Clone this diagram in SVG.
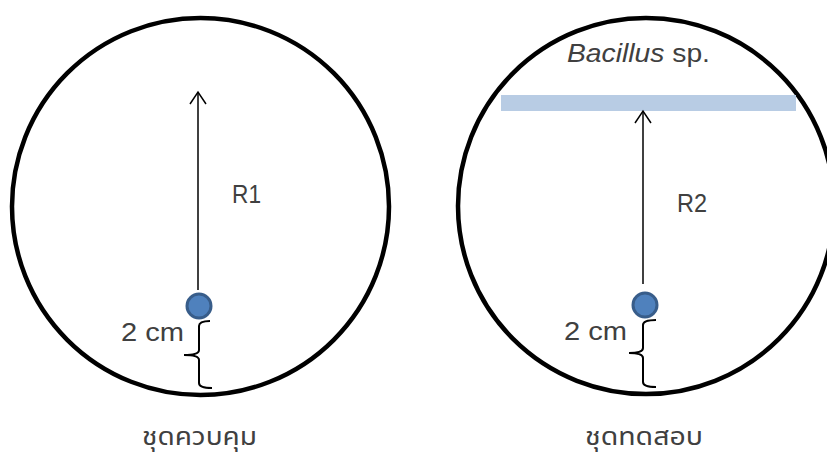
<svg xmlns="http://www.w3.org/2000/svg" width="827" height="456" viewBox="0 0 827 456">
<style>
.dish{fill:none;stroke:#000;stroke-width:4.5}
.ax{stroke:#000;stroke-width:1.5;fill:none}
.dot{fill:#4f81bd;stroke:#385d8a;stroke-width:3}
.br{fill:none;stroke:#000;stroke-width:2}
.t{font-family:"Liberation Sans","Noto Sans",sans-serif;fill:#404040;font-size:26px}
.th{font-family:"Noto Sans Thai","Noto Sans","DejaVu Sans",sans-serif;fill:#404040;font-size:25px}
</style>
<defs>
<marker id="ah" viewBox="0 0 20 20" refX="15" refY="10" markerWidth="20" markerHeight="20" markerUnits="userSpaceOnUse" orient="auto">
<path d="M3,2 L15,10 L3,18" fill="none" stroke="#000" stroke-width="1.5"/>
</marker>
</defs>
<g id="control">
<circle class="dish" cx="200.5" cy="206.5" r="188.5"/>
<circle class="dot" cx="199" cy="306" r="12"/>
<text class="t" x="121" y="341" textLength="63" lengthAdjust="spacingAndGlyphs">2 cm</text>
<text class="t" x="232" y="203" font-size="25" textLength="29" lengthAdjust="spacingAndGlyphs">R1</text>
<text class="th" x="142" y="445" textLength="115" lengthAdjust="spacingAndGlyphs">ชุดควบคุม</text>
</g>
<g id="test">
<circle class="dish" cx="646" cy="206" r="188"/>
<rect x="501" y="95" width="295" height="16" fill="#b8cce4"/>
<circle class="dot" cx="645" cy="305" r="12"/>
<text class="t" x="564" y="340" textLength="63" lengthAdjust="spacingAndGlyphs">2 cm</text>
<text class="t" x="677" y="212" font-size="25" textLength="30" lengthAdjust="spacingAndGlyphs">R2</text>
<text class="t" x="567" y="62" font-size="27" textLength="143" lengthAdjust="spacingAndGlyphs"><tspan font-style="italic">Bacillus</tspan> sp.</text>
<text class="th" x="585" y="445" textLength="118" lengthAdjust="spacingAndGlyphs">ชุดทดสอบ</text>
</g>
<g id="connectors">
<line class="ax" x1="198" y1="290" x2="198" y2="92" marker-end="url(#ah)"/>
<line class="ax" x1="643" y1="284" x2="643" y2="111" marker-end="url(#ah)"/>
<path class="br" d="M210,321 Q199,321 199,326 L199,350 Q199,355 184,355 Q199,355 199,360 L199,383 Q199,388 212,388"/>
<path class="br" d="M656,320 Q643,320 643,325 L643,348 Q643,353 629,353 Q643,353 643,358 L643,382 Q643,387 656,387"/>
</g>
</svg>
